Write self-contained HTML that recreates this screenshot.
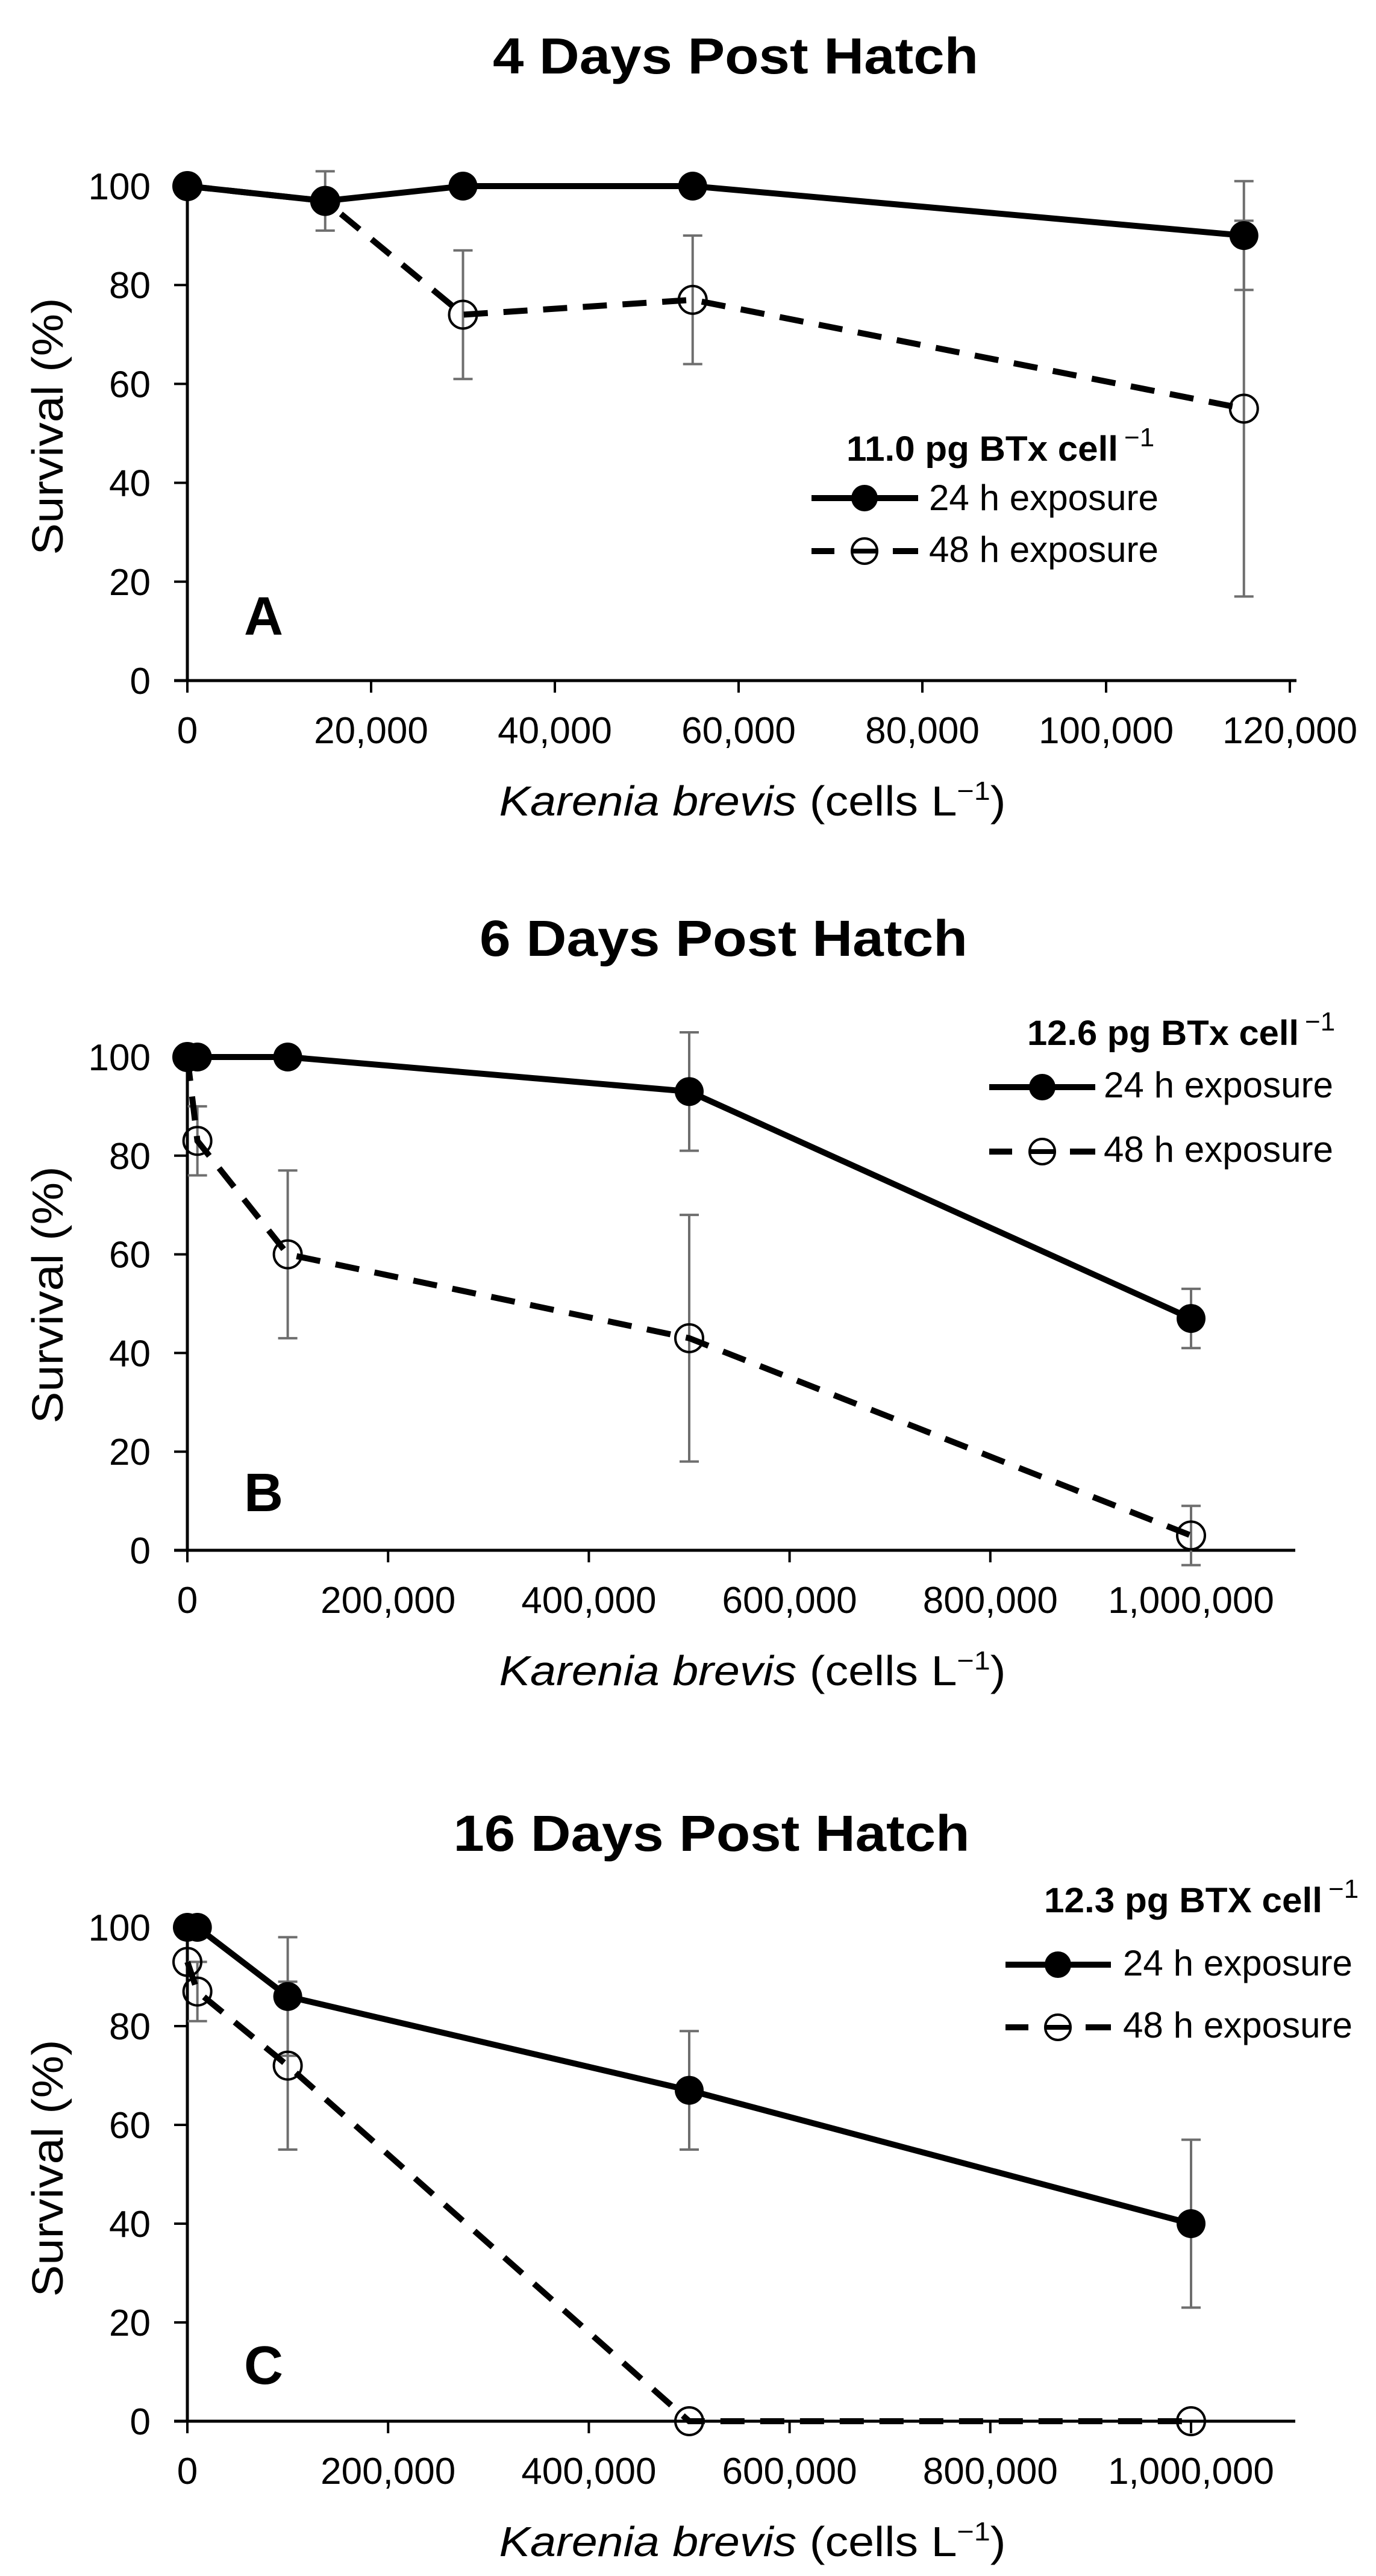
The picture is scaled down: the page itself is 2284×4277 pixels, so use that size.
<!DOCTYPE html>
<html><head><meta charset="utf-8"><style>
html,body{margin:0;padding:0;background:#fff}
svg{display:block}
text{font-family:"Liberation Sans",Arial,sans-serif;fill:#000}
</style></head>
<body>
<svg id="fig" width="2284" height="4277" viewBox="0 0 2284 4277" xmlns="http://www.w3.org/2000/svg"></svg>
<script>
// ---- Panel A data ----
const xA = [0, 15000, 30000, 55000, 115000];
const a24 = [100, 97, 100, 100, 90];
const a24err = [0, 6, 0, 0, 11];
const a48 = [100, 97, 74, 77, 55];
const a48err = [0, 0, 13, 13, 38];
const xTicksA = [0, 20000, 40000, 60000, 80000, 100000, 120000];
const xTickLabelsA = ["0", "20,000", "40,000", "60,000", "80,000", "100,000", "120,000"];
// ---- Panel B data ----
const xB = [0, 10000, 100000, 500000, 1000000];
const b24 = [100, 100, 100, 93, 47];
const b24err = [0, 0, 0, 12, 6];
const b48 = [100, 83, 60, 43, 3];
const b48err = [0, 7, 17, 25, 6];
// ---- Panel C data ----
const xC = [0, 10000, 100000, 500000, 1000000];
const c24 = [100, 100, 86, 67, 40];
const c24err = [0, 0, 12, 12, 17];
const c48 = [93, 87, 72, 0, 0];
const c48err = [0, 6, 17, 0, 0];
const xTicksBC = [0, 200000, 400000, 600000, 800000, 1000000];
const xTickLabelsBC = ["0", "200,000", "400,000", "600,000", "800,000", "1,000,000"];
const yTicks = [0, 20, 40, 60, 80, 100];
const yTickLabels = ["0", "20", "40", "60", "80", "100"];

const NS = "http://www.w3.org/2000/svg";
const svg = document.getElementById("fig");
function mk(tag, attrs, parent) {
  const e = document.createElementNS(NS, tag);
  for (const k in attrs) e.setAttribute(k, attrs[k]);
  (parent || svg).appendChild(e);
  return e;
}

const panels = [
  {id:"a", title:"4 Days Post Hatch", titleX:1221, titleY:122, titleW:806, letter:"A", letterY:1054,
   y100:309, y0:1130, xMax:120000, xMaxPx:2141, axisEnd:2152,
   xs:xA, s24:a24, e24:a24err, s48:a48, e48:a48err, ticks:xTicksA, tickLabels:xTickLabelsA,
   leg:{titleText:"11.0 pg BTx cell", tx:1405, ty:765, tw:451, lx1:1347, lx2:1524, mx:1435, y1:827, y2:915, textX:1542, b1:847, b2:933, textW:381},
   yTitleY:708},
  {id:"b", title:"6 Days Post Hatch", titleX:1201, titleY:1587, titleW:810, letter:"B", letterY:2509,
   y100:1755, y0:2574, xMax:1000000, xMaxPx:1977, axisEnd:2150,
   xs:xB, s24:b24, e24:b24err, s48:b48, e48:b48err, ticks:xTicksBC, tickLabels:xTickLabelsBC,
   leg:{titleText:"12.6 pg BTx cell", tx:1705, ty:1735, tw:451, lx1:1642, lx2:1818, mx:1730, y1:1805, y2:1912, textX:1832, b1:1822, b2:1929, textW:381},
   yTitleY:2150},
  {id:"c", title:"16 Days Post Hatch", titleX:1181, titleY:3073, titleW:857, letter:"C", letterY:3958,
   y100:3200, y0:4020, xMax:1000000, xMaxPx:1977, axisEnd:2150,
   xs:xC, s24:c24, e24:c24err, s48:c48, e48:c48err, ticks:xTicksBC, tickLabels:xTickLabelsBC,
   leg:{titleText:"12.3 pg BTX cell", tx:1733, ty:3175, tw:462, lx1:1669, lx2:1844, mx:1756, y1:3262, y2:3366, textX:1864, b1:3280, b2:3383, textW:381},
   yTitleY:3600}
];

const X0 = 311;

panels.forEach(p => {
  const g = mk("g", {});
  
  
  const xs = v => X0 + (v / p.xMax) * (p.xMaxPx - X0);
  const ys = v => p.y0 - (v / 100) * (p.y0 - p.y100);

  const t = mk("text", {x:p.titleX, y:p.titleY, "text-anchor":"middle", "font-size":84, "font-weight":"bold",
    textLength:p.titleW, lengthAdjust:"spacingAndGlyphs"}, g);
  t.textContent = p.title;
  
  

  const ya = mk("line", {x1:X0, y1:ys(100), x2:X0, y2:p.y0, stroke:"#000", "stroke-width":5}, g);
  
  
  const xa = mk("line", {x1:X0-22, y1:p.y0, x2:p.axisEnd, y2:p.y0, stroke:"#000", "stroke-width":5}, g);
  
  

  yTicks.forEach((v, i) => {
    const tk = mk("line", {x1:X0-22, y1:ys(v), x2:X0, y2:ys(v), stroke:"#000", "stroke-width":4}, g);
    
    
    const tl = mk("text", {x:250, y:ys(v)+22, "text-anchor":"end", "font-size":62}, g);
    tl.textContent = yTickLabels[i];
    
    
  });
  p.ticks.forEach((v, i) => {
    const tk = mk("line", {x1:xs(v), y1:p.y0, x2:xs(v), y2:p.y0+20, stroke:"#000", "stroke-width":4}, g);
    
    
    const tl = mk("text", {x:xs(v), y:p.y0+104, "text-anchor":"middle", "font-size":62}, g);
    tl.textContent = p.tickLabels[i];
    
    
  });

  const yt = mk("text", {x:0, y:0, "text-anchor":"middle", "font-size":72, textLength:427, lengthAdjust:"spacingAndGlyphs",
    transform:"translate(104," + p.yTitleY + ") rotate(-90)"}, g);
  yt.textContent = "Survival (%)";
  
  

  const xt = mk("text", {x:1249, y:p.y0+224, "text-anchor":"middle", "font-size":70, textLength:841, lengthAdjust:"spacingAndGlyphs"}, g);
  
  
  const ts1 = mk("tspan", {"font-style":"italic"}, xt); ts1.textContent = "Karenia brevis";
  const ts2 = mk("tspan", {}, xt); ts2.textContent = " (cells L";
  const ts3 = mk("tspan", {dy:-26, "font-size":44}, xt); ts3.textContent = "−1";
  const ts4 = mk("tspan", {dy:26}, xt); ts4.textContent = ")";

  const lt = mk("text", {x:405, y:p.letterY, "font-size":90, "font-weight":"bold", fill:"#222"}, g);
  lt.textContent = p.letter;
  
  

  function errBars(series, errs, name) {
    series.forEach((v, i) => {
      const e = errs[i];
      if (!e) return;
      const cx = xs(p.xs[i]);
      const hi = v + e, lo = v - e;
      const eg = mk("g", {stroke:"#6e6e6e", "stroke-width":4}, g);
      
      
      mk("line", {x1:cx, y1:ys(hi), x2:cx, y2:ys(lo)}, eg);
      mk("line", {x1:cx-16, y1:ys(hi), x2:cx+16, y2:ys(hi)}, eg);
      mk("line", {x1:cx-16, y1:ys(lo), x2:cx+16, y2:ys(lo)}, eg);
    });
  }
  errBars(p.s48, p.e48, 'error-bar-48h');
  errBars(p.s24, p.e24, 'error-bar-24h');

  const pts48 = p.s48.map((v, i) => xs(p.xs[i]) + "," + ys(v)).join(" ");
  const l48 = mk("polyline", {points:pts48, fill:"none", stroke:"#000", "stroke-width":10, "stroke-dasharray":"40,26"}, g);
  
  
  p.s48.forEach((v, i) => {
    const c = mk("circle", {cx:xs(p.xs[i]), cy:ys(v), r:23, fill:"none", stroke:"#000", "stroke-width":4}, g);
    
    
  });
  const pts24 = p.s24.map((v, i) => xs(p.xs[i]) + "," + ys(v)).join(" ");
  const l24 = mk("polyline", {points:pts24, fill:"none", stroke:"#000", "stroke-width":10}, g);
  
  
  p.s24.forEach((v, i) => {
    const c = mk("circle", {cx:xs(p.xs[i]), cy:ys(v), r:24, fill:"#000"}, g);
    
    
  });

  const L = p.leg;
  const lg = mk("g", {}, g);
  
  
  const lt1 = mk("text", {x:L.tx, y:L.ty, "font-size":58, "font-weight":"bold", textLength:L.tw, lengthAdjust:"spacingAndGlyphs"}, lg);
  lt1.textContent = L.titleText;
  
  
  const sup = mk("text", {x:L.tx + L.tw + 10, y:L.ty - 24, "font-size":44}, lg);
  sup.textContent = "−1";
  
  

  const e1 = mk("g", {}, lg);
  
  
  mk("line", {x1:L.lx1, y1:L.y1, x2:L.lx2, y2:L.y1, stroke:"#000", "stroke-width":10}, e1);
  mk("ellipse", {cx:L.mx, cy:L.y1, rx:22, ry:22, fill:"#000"}, e1);
  const et1 = mk("text", {x:L.textX, y:L.b1, "font-size":60, textLength:L.textW, lengthAdjust:"spacingAndGlyphs"}, e1);
  et1.textContent = "24 h exposure";

  const e2 = mk("g", {}, lg);
  
  
  mk("line", {x1:L.lx1, y1:L.y2, x2:L.lx1+38, y2:L.y2, stroke:"#000", "stroke-width":10}, e2);
  mk("line", {x1:L.lx2-42, y1:L.y2, x2:L.lx2, y2:L.y2, stroke:"#000", "stroke-width":10}, e2);
  mk("line", {x1:L.mx-20, y1:L.y2, x2:L.mx+20, y2:L.y2, stroke:"#000", "stroke-width":8}, e2);
  mk("circle", {cx:L.mx, cy:L.y2, r:21, fill:"none", stroke:"#000", "stroke-width":4}, e2);
  const et2 = mk("text", {x:L.textX, y:L.b2, "font-size":60, textLength:L.textW, lengthAdjust:"spacingAndGlyphs"}, e2);
  et2.textContent = "48 h exposure";
});
</script>
</body></html>
